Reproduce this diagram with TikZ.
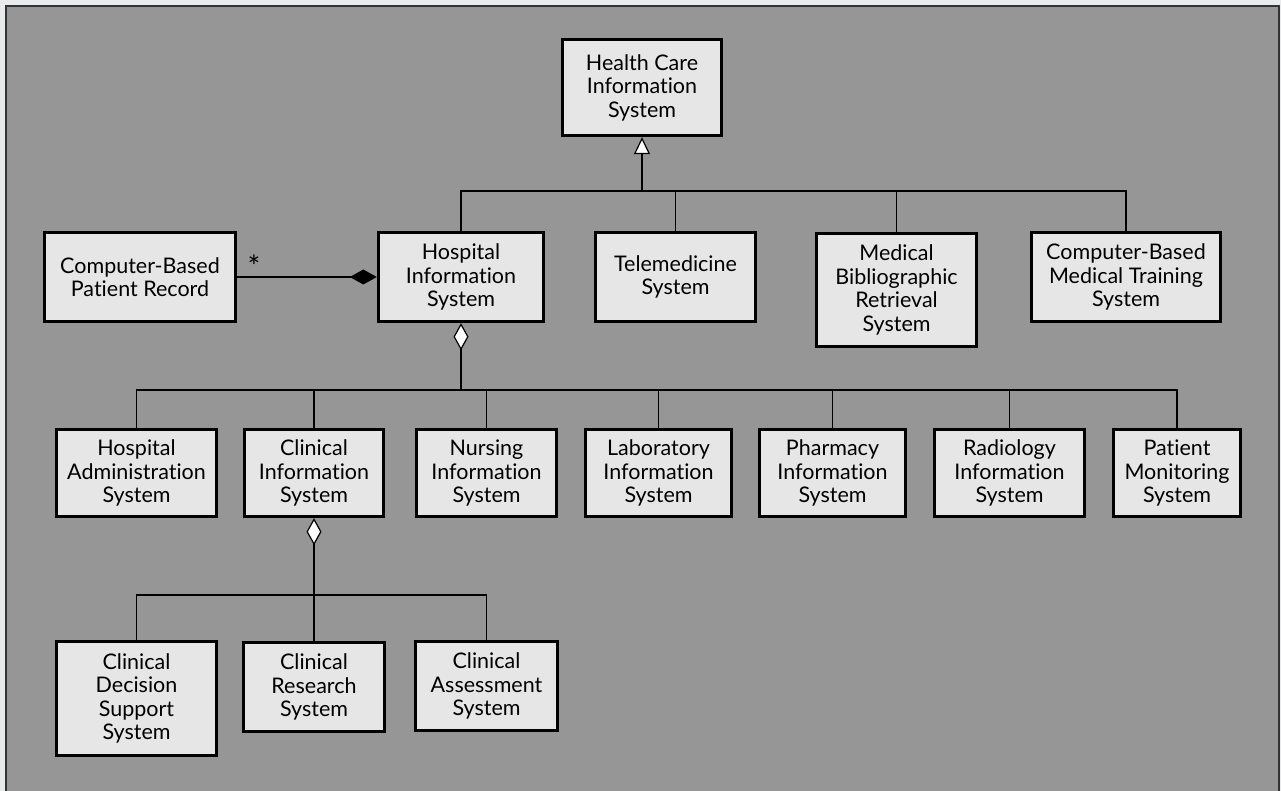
\documentclass[tikz,border=0pt]{standalone}
\usepackage{fontspec}
\setmainfont{Lato}[Ligatures=NoCommon]
\usepackage{tikz}
\usetikzlibrary{arrows.meta}
\definecolor{pagegray}{RGB}{233,234,235}
\definecolor{panelgray}{RGB}{150,150,150}
\definecolor{boxgray}{RGB}{230,230,230}

\tikzset{
  sysbox/.style={draw,line width=3.4pt,fill=boxgray,align=center,inner sep=0pt,
    font=\fontsize{21.5}{23.5}\selectfont},
  link/.style={line width=1.9pt},
  isa/.style={link,-{Triangle[fill=white,length=17pt,width=16pt,line width=1.2pt]}},
  partof/.style={link,-{Diamond[fill=white,length=27pt,width=15pt,line width=1.2pt]}},
  wholeof/.style={link,-{Diamond[fill=black,length=27pt,width=15pt]}},
}

\begin{document}
\begin{tikzpicture}[x=1pt,y=-1pt]
            \useasboundingbox (0,0) rectangle (1281,791);
            \fill [pagegray] (0,0) rectangle (1281,791);
            \draw [fill=panelgray,draw=black!80,line width=1.5pt] (6,6) rectangle (1279,800);
            %
            \node (hcis) at (642,87.5) [sysbox,minimum width=159pt,minimum height=96pt] {Health Care\\Information\\System};
            %
            \node (cbpr) at (140,277) [sysbox,minimum width=191pt,minimum height=89pt] {Computer-Based\\Patient Record};
            \node (his) at (461,277) [sysbox,minimum width=165pt,minimum height=89pt] {Hospital\\Information\\System};
            \node (tele) at (675.5,277) [sysbox,minimum width=160pt,minimum height=89pt] {Telemedicine\\System};
            \node (mbrs) at (896.5,290) [sysbox,minimum width=160pt,minimum height=113pt] {Medical\\Bibliographic\\Retrieval\\System};
            \node (cbmts) at (1126,277) [sysbox,minimum width=189pt,minimum height=89pt] {Computer-Based\\Medical Training\\System};
            %
            \node (hadm) at (136.5,473) [sysbox,minimum width=160pt,minimum height=87pt] {Hospital\\Administration\\System};
            \node (cis) at (314,473) [sysbox,minimum width=139pt,minimum height=87pt] {Clinical\\Information\\System};
            \node (nis) at (486.5,473) [sysbox,minimum width=140pt,minimum height=87pt] {Nursing\\Information\\System};
            \node (lis) at (658.5,473) [sysbox,minimum width=146pt,minimum height=87pt] {Laboratory\\Information\\System};
            \node (pis) at (832.5,473) [sysbox,minimum width=146pt,minimum height=87pt] {Pharmacy\\Information\\System};
            \node (ris) at (1009.5,473) [sysbox,minimum width=150pt,minimum height=87pt] {Radiology\\Information\\System};
            \node (pms) at (1177,473) [sysbox,minimum width=127pt,minimum height=87pt] {Patient\\Monitoring\\System};
            %
            \node (cdss) at (136.5,698.5) [sysbox,minimum width=160pt,minimum height=114pt] {Clinical\\Decision\\Support\\System};
            \node (crs) at (314,687) [sysbox,minimum width=141pt,minimum height=89pt] {Clinical\\Research\\System};
            \node (cas) at (486.5,686) [sysbox,minimum width=142pt,minimum height=89pt] {Clinical\\Assessment\\System};
            %
            % generalisation
            \coordinate (hcisbus) at (642,191);
            \draw [isa] (hcisbus) -- (hcis.south);
            \foreach \n in {his,tele,mbrs,cbmts}
              \draw [link] (\n.north) |- (hcisbus);
            %
            % composition
            \draw [wholeof] (cbpr.east) -- (his.west);
            \node (mult) at (254,266) [font=\fontsize{30}{30}\selectfont] {*};
            %
            % aggregation
            \coordinate (hisbus) at (461,390);
            \draw [partof] (hisbus) -- (his.south);
            \foreach \n in {hadm,cis,nis,lis,pis,ris,pms}
              \draw [link] (\n.north) |- (hisbus);
            %
            \coordinate (cisbus) at (314,595);
            \draw [partof] (cisbus) -- (cis.south);
            \foreach \n in {cdss,crs,cas}
              \draw [link] (\n.north) |- (cisbus);
            %
\end{tikzpicture}
\end{document}
